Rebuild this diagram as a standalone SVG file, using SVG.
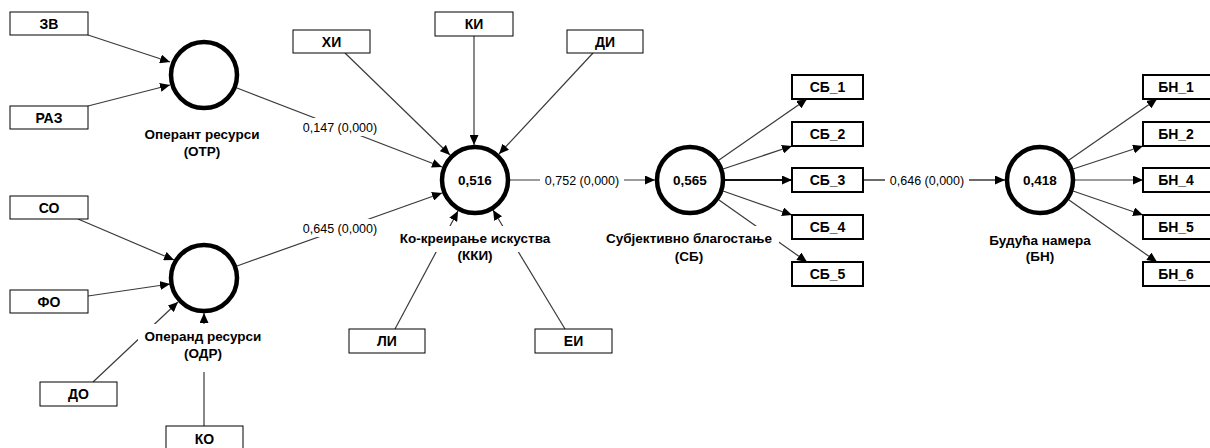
<svg xmlns="http://www.w3.org/2000/svg" width="1210" height="448" viewBox="0 0 1210 448">
  <style>
    text { font-family: "Liberation Sans", Arial, sans-serif; fill: #000; }
    .c { fill: none; stroke: #3a3a3a; stroke-width: 1.2; marker-end: url(#arr); }
    .cn { fill: none; stroke: #3a3a3a; stroke-width: 1.2; }
    .ind { fill: #fff; stroke: #000; stroke-width: 1; }
    .ind2 { fill: #fff; stroke: #000; stroke-width: 2; }
    .lv { fill: #fff; stroke: #000; stroke-width: 4.5; }
    .bt { font-size: 14px; font-weight: bold; text-anchor: middle; }
    .nl { font-size: 13.5px; font-weight: bold; text-anchor: middle; }
    .val { font-size: 13.5px; font-weight: bold; text-anchor: middle; }
    .coef { font-size: 12.5px; text-anchor: middle; }
    .mask { fill: #fff; stroke: none; }
  </style>
  <defs>
    <marker id="arr" markerUnits="userSpaceOnUse" markerWidth="11" markerHeight="9" refX="10" refY="4.5" orient="auto">
      <path d="M0,0 L10,4.5 L0,9 Z" fill="#000"/>
    </marker>
  </defs>

  <!-- connectors -->
  <g id="connectors">
    <path class="c" d="M88,35 L170,62"/>
    <path class="c" d="M88,106 L170,85"/>
    <path class="c" d="M78,219 L174,260"/>
    <path class="c" d="M88,296 L170,284"/>
    <path class="c" d="M93,382 L178,302"/>
    <path class="c" d="M204,426 L204,313"/>
    <path class="c" d="M237,88 L442,167"/>
    <path class="c" d="M237,266 L442,193"/>
    <path class="c" d="M345,53 L450,155"/>
    <path class="c" d="M474,36 L474,145"/>
    <path class="c" d="M593,53 L499,154"/>
    <path class="c" d="M395,329 L458,211"/>
    <path class="c" d="M565,329 L493,210"/>
    <path class="c" d="M510,180 L655,180"/>
    <path class="cn" d="M725,180 L1005,180"/>
    <path class="c" d="M863,180 L1005,180"/>
    <path class="c" d="M719,160 L807,99"/>
    <path class="c" d="M723,169 L792,146"/>
    <path class="c" style="stroke-width:2;stroke:#111" d="M725,180 L792,180"/>
    <path class="c" d="M723,191 L792,215"/>
    <path class="c" d="M719,200 L807,262"/>
    <path class="c" d="M1069,160 L1157,99"/>
    <path class="c" d="M1073,169 L1143,146"/>
    <path class="c" d="M1075,180 L1143,180"/>
    <path class="c" d="M1073,191 L1143,215"/>
    <path class="c" d="M1069,200 L1157,262"/>

    <!-- path coefficients -->
    <rect class="mask" x="299" y="118" width="82" height="18"/>
    <text class="coef" x="340" y="131.5">0,147 (0,000)</text>
    <rect class="mask" x="299" y="219" width="82" height="18"/>
    <text class="coef" x="340" y="232.5">0,645 (0,000)</text>
    <rect class="mask" x="540" y="171" width="84" height="18"/>
    <text class="coef" x="582" y="184.5">0,752 (0,000)</text>
    <rect class="mask" x="885" y="171" width="84" height="18"/>
    <text class="coef" x="927" y="184.5">0,646 (0,000)</text>
  </g>

  <!-- formative indicators -->
  <g id="n-zv"><rect class="ind" x="10" y="12" width="78" height="23"/><text class="bt" x="49" y="28.5">ЗВ</text></g>
  <g id="n-raz"><rect class="ind" x="10" y="106" width="78" height="23"/><text class="bt" x="49" y="122.5">РАЗ</text></g>
  <g id="n-so"><rect class="ind" x="10" y="196" width="78" height="23"/><text class="bt" x="49" y="212.5">СО</text></g>
  <g id="n-fo"><rect class="ind" x="10" y="290" width="78" height="23"/><text class="bt" x="49" y="306.5">ФО</text></g>
  <g id="n-do"><rect class="ind" x="40" y="382" width="77" height="24"/><text class="bt" x="78.5" y="399">ДО</text></g>
  <g id="n-ko"><rect class="ind" x="166" y="426" width="77" height="26"/><text class="bt" x="204.5" y="443.5">КО</text></g>
  <g id="n-hi"><rect class="ind" x="293" y="30" width="77" height="23"/><text class="bt" x="331.5" y="46.5">ХИ</text></g>
  <g id="n-ki"><rect class="ind" x="435" y="12" width="78" height="24"/><text class="bt" x="474" y="29">КИ</text></g>
  <g id="n-di"><rect class="ind" x="567" y="30" width="76" height="23"/><text class="bt" x="605" y="46.5">ДИ</text></g>
  <g id="n-li"><rect class="ind" x="349" y="329" width="76" height="24"/><text class="bt" x="387" y="346">ЛИ</text></g>
  <g id="n-ei"><rect class="ind" x="535" y="329" width="77" height="24"/><text class="bt" x="573.5" y="346">ЕИ</text></g>

  <!-- reflective indicators -->
  <g id="n-sb1"><rect class="ind2" x="792" y="75" width="71" height="24"/><text class="bt" x="827.5" y="92">СБ_1</text></g>
  <g id="n-sb2"><rect class="ind2" x="792" y="122" width="71" height="24"/><text class="bt" x="827.5" y="139">СБ_2</text></g>
  <g id="n-sb3"><rect class="ind2" x="792" y="168" width="71" height="24"/><text class="bt" x="827.5" y="185">СБ_3</text></g>
  <g id="n-sb4"><rect class="ind2" x="792" y="215" width="71" height="24"/><text class="bt" x="827.5" y="232">СБ_4</text></g>
  <g id="n-sb5"><rect class="ind2" x="792" y="262" width="71" height="24"/><text class="bt" x="827.5" y="279">СБ_5</text></g>
  <g id="n-bn1"><rect class="ind2" x="1143" y="75" width="70" height="24"/><text class="bt" x="1176" y="92">БН_1</text></g>
  <g id="n-bn2"><rect class="ind2" x="1143" y="122" width="70" height="24"/><text class="bt" x="1176" y="139">БН_2</text></g>
  <g id="n-bn4"><rect class="ind2" x="1143" y="168" width="70" height="24"/><text class="bt" x="1176" y="185">БН_4</text></g>
  <g id="n-bn5"><rect class="ind2" x="1143" y="215" width="70" height="24"/><text class="bt" x="1176" y="232">БН_5</text></g>
  <g id="n-bn6"><rect class="ind2" x="1143" y="262" width="70" height="24"/><text class="bt" x="1176" y="279">БН_6</text></g>

  <!-- latent variables -->
  <g id="n-otr">
    <circle class="lv" cx="204" cy="75" r="33"/>
    <text class="nl" x="202" y="139">Оперант ресурси</text>
    <text class="nl" x="202" y="156">(ОТР)</text>
  </g>
  <g id="n-odr">
    <circle class="lv" cx="204" cy="278" r="33"/>
    <rect class="mask" x="138" y="324" width="130" height="22"/>
    <rect class="mask" x="180" y="346" width="46" height="26"/>
    <text class="nl" x="203" y="341">Операнд ресурси</text>
    <text class="nl" x="203" y="358">(ОДР)</text>
  </g>
  <g id="n-kki">
    <circle class="lv" cx="475" cy="180" r="33"/>
    <text class="val" x="475" y="184.5">0,516</text>
    <rect class="mask" x="395" y="226" width="160" height="26"/>
    <rect class="mask" x="450" y="252" width="50" height="13"/>
    <text class="nl" x="475" y="242.5">Ко-креирање искуства</text>
    <text class="nl" x="475" y="260">(ККИ)</text>
  </g>
  <g id="n-sb">
    <circle class="lv" cx="690" cy="180" r="33"/>
    <text class="val" x="690" y="184.5">0,565</text>
    <rect class="mask" x="601" y="226" width="178" height="24"/>
    <rect class="mask" x="668" y="250" width="42" height="16"/>
    <text class="nl" x="689" y="242.5">Субјективно благостање</text>
    <text class="nl" x="689" y="261">(СБ)</text>
  </g>
  <g id="n-bn">
    <circle class="lv" cx="1040" cy="180" r="33"/>
    <text class="val" x="1040" y="184.5">0,418</text>
    <text class="nl" x="1040" y="244.5">Будућа намера</text>
    <text class="nl" x="1040" y="260.5">(БН)</text>
  </g>
</svg>
